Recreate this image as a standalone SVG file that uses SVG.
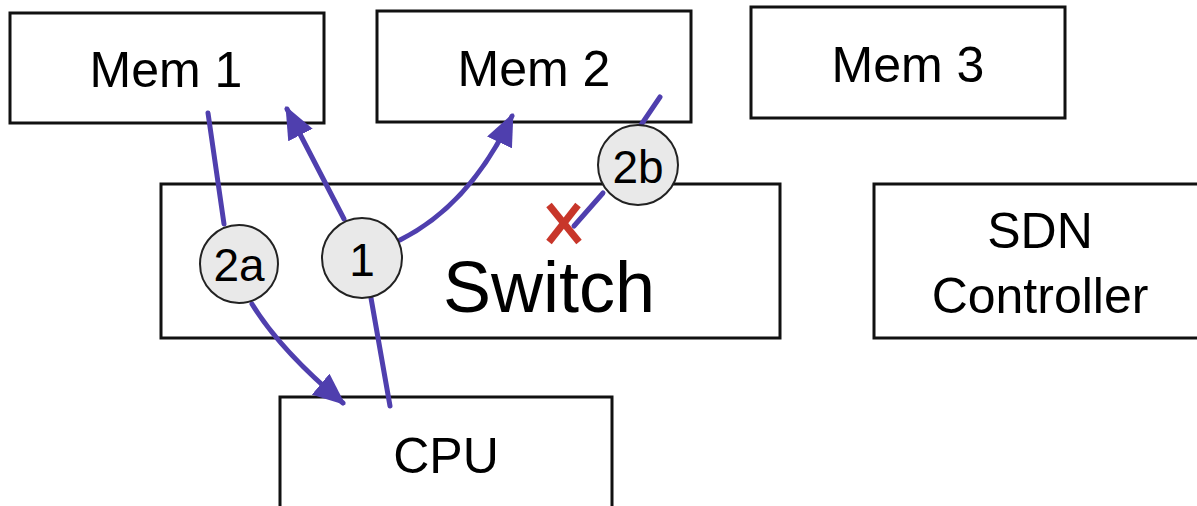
<svg xmlns="http://www.w3.org/2000/svg" width="1197" height="506" viewBox="0 0 1197 506">
<defs>
<style>
.box{fill:#fff;stroke:#111;stroke-width:3}
.lbl{font-family:"Liberation Sans",Arial,sans-serif;fill:#000;text-anchor:middle}
.edge{fill:none;stroke:#4f3fae;stroke-width:5;stroke-linecap:round}
.badge{fill:#e9e9e9;stroke:#222;stroke-width:2}
</style>
<marker id="ah" viewBox="0 0 10 10" refX="9" refY="5" markerWidth="6.5" markerHeight="5.5" markerUnits="strokeWidth" orient="auto" preserveAspectRatio="none">
<path d="M0,0 L10,5 L0,10 Z" fill="#4f3fae"/>
</marker>
</defs>
<rect width="1197" height="506" fill="#fff"/>
<g id="mem1"><rect class="box" x="10" y="13" width="314" height="110"/><text class="lbl" x="166" y="87" font-size="50">Mem 1</text></g>
<g id="mem2"><rect class="box" x="377" y="11" width="314" height="111"/><text class="lbl" x="534" y="86" font-size="50">Mem 2</text></g>
<g id="mem3"><rect class="box" x="751" y="7" width="314" height="111"/><text class="lbl" x="908" y="82" font-size="50">Mem 3</text></g>
<g id="switch"><rect class="box" x="161" y="184" width="619" height="154"/><text class="lbl" x="549" y="312" font-size="72">Switch</text></g>
<g id="sdn"><rect class="box" x="874" y="184" width="330" height="154"/><text class="lbl" x="1040" y="248" font-size="50">SDN</text><text class="lbl" x="1040" y="313" font-size="50">Controller</text></g>
<g id="cpu"><rect class="box" x="280" y="397" width="332" height="120"/><text class="lbl" x="446" y="473" font-size="50">CPU</text></g>
<g id="connectors">
<path class="edge" d="M208,113 L224,224"/>
<path class="edge" d="M252,304 Q280,350 343,403" marker-end="url(#ah)"/>
<path class="edge" d="M390,406 L371,298"/>
<path class="edge" d="M344,219 L287,109" marker-end="url(#ah)"/>
<path class="edge" d="M400,240 Q470,205 512,116" marker-end="url(#ah)"/>
<path class="edge" d="M660,97 L641,125"/>
<path class="edge" d="M603,193 L574,226"/>
<g id="x-mark" stroke="#c8362a" stroke-width="7" stroke-linecap="butt">
<line x1="549" y1="205" x2="579" y2="242"/>
<line x1="578" y1="205" x2="549" y2="242"/>
</g>
</g>
<g id="badge-2a"><circle class="badge" cx="239" cy="264" r="39"/><text class="lbl" x="239" y="281" font-size="46">2a</text></g>
<g id="badge-1"><circle class="badge" cx="362" cy="258" r="40"/><text class="lbl" x="362" y="276" font-size="46">1</text></g>
<g id="badge-2b"><circle class="badge" cx="638" cy="165" r="40"/><text class="lbl" x="638" y="183" font-size="46">2b</text></g>
</svg>
